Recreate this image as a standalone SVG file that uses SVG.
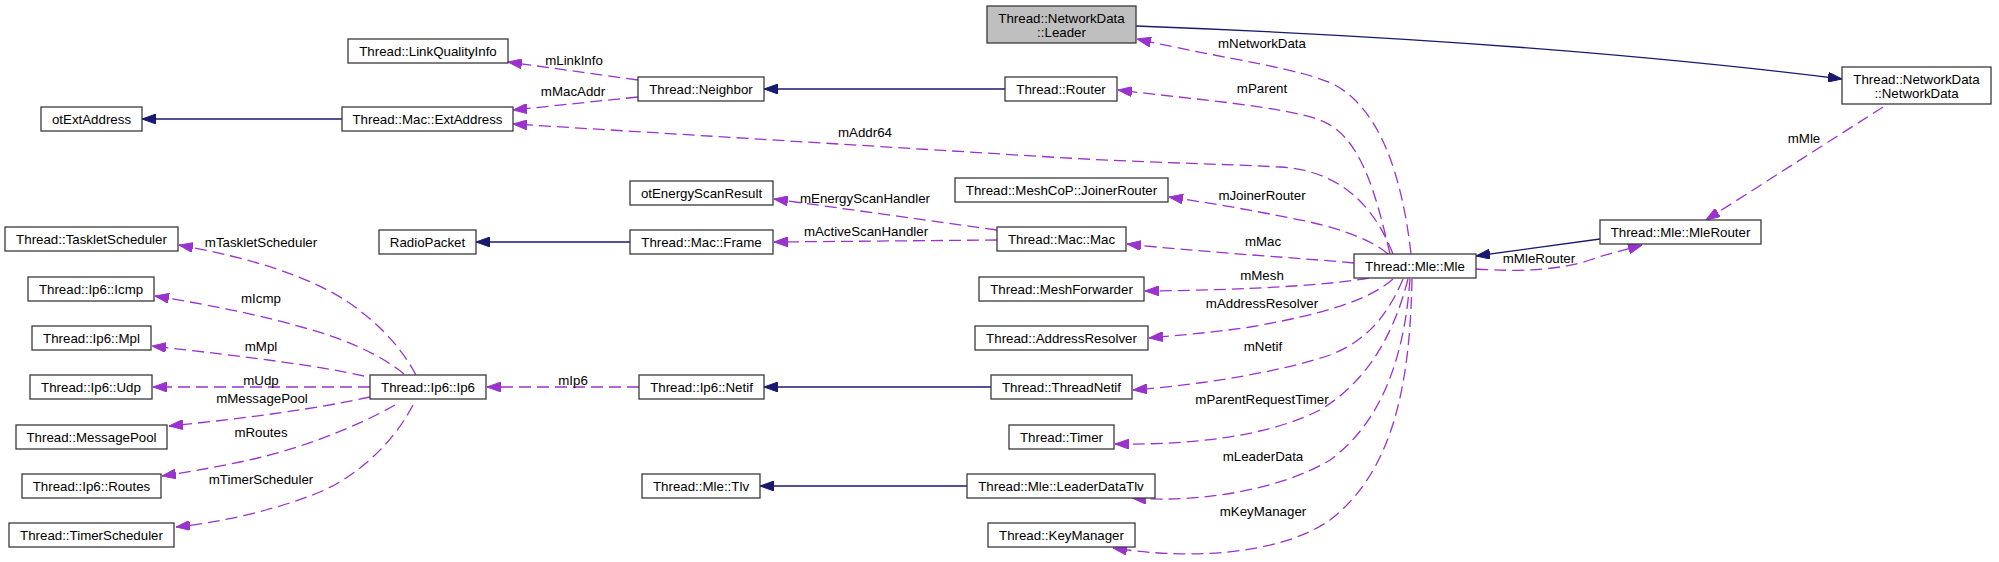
<svg xmlns="http://www.w3.org/2000/svg" width="1999" height="562" viewBox="0 0 1999 562">
<style>
.n rect{fill:#ffffff;stroke:#3a3a3a;stroke-width:1.3}
.n rect.g{fill:#bfbfbf}
text{font-family:"Liberation Sans",Arial,sans-serif;font-size:13.3px;fill:#000;text-anchor:middle}
.inh{fill:none;stroke:#191970;stroke-width:1.3;marker-end:url(#an)}
.use{fill:none;stroke:#9a32cd;stroke-width:1.3;stroke-dasharray:12,6;marker-end:url(#ap)}
</style>
<defs>
<marker id="an" viewBox="0 0 14 10" refX="14" refY="5" markerWidth="14" markerHeight="10" markerUnits="userSpaceOnUse" orient="auto"><path d="M0,0L14,5L0,10z" fill="#191970" stroke="#191970"/></marker>
<marker id="ap" viewBox="0 0 14 10" refX="14" refY="5" markerWidth="14" markerHeight="10" markerUnits="userSpaceOnUse" orient="auto"><path d="M0,0L14,5L0,10z" fill="#9a32cd" stroke="#9a32cd"/></marker>
</defs>
<rect width="1999" height="562" fill="#fff"/>
<g id="connectors">
<path class="inh" d="M342,119L142,119"/>
<path class="inh" d="M1005,89L764,89"/>
<path class="inh" d="M630,242L476,242"/>
<path class="inh" d="M991,387L764,387"/>
<path class="inh" d="M967,486L760,486"/>
<path class="inh" d="M1136,26C1400,36 1650,55 1842,79"/>
<path class="inh" d="M1600,239L1476,256"/>
<path class="use" d="M638,80L508,62"/>
<path class="use" d="M638,97L513,110"/>
<path class="use" d="M1393,254C1370,195 1330,170 1280,167C1200,163 1150,163 1050,157L513,124"/>
<path class="use" d="M1411,254C1402,175 1380,110 1335,85C1300,68 1230,60 1137,39"/>
<path class="use" d="M1390,254C1375,190 1360,135 1320,120C1280,106 1200,100 1118,90"/>
<path class="use" d="M1388,254C1370,238 1330,225 1290,218C1240,208 1210,203 1169,197"/>
<path class="use" d="M1354,263C1300,258 1200,252 1127,244"/>
<path class="use" d="M1369,278C1330,285 1250,290 1145,291"/>
<path class="use" d="M1393,279C1370,300 1320,315 1250,327C1210,333 1180,335 1149,338"/>
<path class="use" d="M1403,279C1390,310 1370,340 1330,355C1280,372 1200,385 1133,390"/>
<path class="use" d="M1408,279C1395,330 1370,380 1320,410C1270,435 1200,445 1115,444"/>
<path class="use" d="M1410,279C1405,350 1385,420 1330,460C1280,490 1200,503 1132,498"/>
<path class="use" d="M1412,279C1410,380 1395,470 1330,520C1280,555 1190,560 1113,548"/>
<path class="use" d="M1476,269C1520,272 1560,270 1590,260C1610,253 1625,250 1642,245"/>
<path class="use" d="M1883,107L1706,220"/>
<path class="use" d="M416,375C400,345 375,320 345,300C305,275 250,258 179,245"/>
<path class="use" d="M404,374C385,358 350,340 305,328C260,315 210,305 155,296"/>
<path class="use" d="M364,376C320,366 250,357 152,346"/>
<path class="use" d="M370,387L153,387"/>
<path class="use" d="M370,397C320,408 250,418 169,426"/>
<path class="use" d="M395,405C360,425 300,450 240,462C210,468 190,472 162,476"/>
<path class="use" d="M413,405C395,440 360,475 320,492C270,512 220,522 176,527"/>
<path class="use" d="M639,387L487,387"/>
<path class="use" d="M997,230L774,199"/>
<path class="use" d="M997,240L774,242"/>
<text x="574" y="65">mLinkInfo</text>
<text x="573" y="96">mMacAddr</text>
<text x="865" y="137">mAddr64</text>
<text x="1262" y="48">mNetworkData</text>
<text x="1262" y="93">mParent</text>
<text x="1262" y="200">mJoinerRouter</text>
<text x="1263" y="246">mMac</text>
<text x="1262" y="280">mMesh</text>
<text x="1262" y="308">mAddressResolver</text>
<text x="1263" y="351">mNetif</text>
<text x="1262" y="404">mParentRequestTimer</text>
<text x="1263" y="461">mLeaderData</text>
<text x="1263" y="516">mKeyManager</text>
<text x="1539" y="263">mMleRouter</text>
<text x="1804" y="143">mMle</text>
<text x="261" y="247">mTaskletScheduler</text>
<text x="261" y="303">mIcmp</text>
<text x="261" y="351">mMpl</text>
<text x="261" y="385">mUdp</text>
<text x="262" y="403">mMessagePool</text>
<text x="261" y="437">mRoutes</text>
<text x="261" y="484">mTimerScheduler</text>
<text x="573" y="385">mIp6</text>
<text x="865" y="203">mEnergyScanHandler</text>
<text x="866" y="236">mActiveScanHandler</text>
</g>
<g id="leader" class="n"><rect class="g" x="987" y="6" width="149" height="37"/><text x="1061.5" y="22.5">Thread::NetworkData</text><text x="1061.5" y="36.5">::Leader</text></g>
<g id="linkquality" class="n"><rect x="348" y="39" width="160" height="24"/><text x="428" y="55.5">Thread::LinkQualityInfo</text></g>
<g id="neighbor" class="n"><rect x="638" y="77" width="126" height="24"/><text x="701" y="93.5">Thread::Neighbor</text></g>
<g id="router" class="n"><rect x="1005" y="77" width="112" height="24"/><text x="1061" y="93.5">Thread::Router</text></g>
<g id="otextaddress" class="n"><rect x="41" y="107" width="101" height="24"/><text x="91.5" y="123.5">otExtAddress</text></g>
<g id="extaddress" class="n"><rect x="342" y="107" width="171" height="24"/><text x="427.5" y="123.5">Thread::Mac::ExtAddress</text></g>
<g id="networkdata" class="n"><rect x="1842" y="67" width="149" height="37"/><text x="1916.5" y="83.5">Thread::NetworkData</text><text x="1916.5" y="97.5">::NetworkData</text></g>
<g id="joinerrouter" class="n"><rect x="955" y="178" width="213" height="24"/><text x="1061.5" y="194.5">Thread::MeshCoP::JoinerRouter</text></g>
<g id="energyscan" class="n"><rect x="630" y="181" width="143" height="24"/><text x="701.5" y="197.5">otEnergyScanResult</text></g>
<g id="radiopacket" class="n"><rect x="379" y="230" width="97" height="24"/><text x="427.5" y="246.5">RadioPacket</text></g>
<g id="frame" class="n"><rect x="630" y="230" width="143" height="24"/><text x="701.5" y="246.5">Thread::Mac::Frame</text></g>
<g id="mac" class="n"><rect x="997" y="227" width="129" height="24"/><text x="1061.5" y="243.5">Thread::Mac::Mac</text></g>
<g id="tasklet" class="n"><rect x="5" y="227" width="173" height="24"/><text x="91.5" y="243.5">Thread::TaskletScheduler</text></g>
<g id="mle" class="n"><rect x="1354" y="254" width="122" height="24"/><text x="1415" y="270.5">Thread::Mle::Mle</text></g>
<g id="mlerouter" class="n"><rect x="1600" y="220" width="161" height="24"/><text x="1680.5" y="236.5">Thread::Mle::MleRouter</text></g>
<g id="meshforwarder" class="n"><rect x="979" y="277" width="165" height="24"/><text x="1061.5" y="293.5">Thread::MeshForwarder</text></g>
<g id="icmp" class="n"><rect x="28" y="277" width="126" height="24"/><text x="91" y="293.5">Thread::Ip6::Icmp</text></g>
<g id="addressresolver" class="n"><rect x="975" y="326" width="173" height="24"/><text x="1061.5" y="342.5">Thread::AddressResolver</text></g>
<g id="mpl" class="n"><rect x="32" y="326" width="119" height="24"/><text x="91.5" y="342.5">Thread::Ip6::Mpl</text></g>
<g id="udp" class="n"><rect x="30" y="375" width="122" height="24"/><text x="91" y="391.5">Thread::Ip6::Udp</text></g>
<g id="ip6" class="n"><rect x="370" y="375" width="116" height="24"/><text x="428" y="391.5">Thread::Ip6::Ip6</text></g>
<g id="netif" class="n"><rect x="639" y="375" width="125" height="24"/><text x="701.5" y="391.5">Thread::Ip6::Netif</text></g>
<g id="threadnetif" class="n"><rect x="991" y="375" width="141" height="24"/><text x="1061.5" y="391.5">Thread::ThreadNetif</text></g>
<g id="messagepool" class="n"><rect x="16" y="425" width="151" height="24"/><text x="91.5" y="441.5">Thread::MessagePool</text></g>
<g id="timer" class="n"><rect x="1009" y="425" width="105" height="24"/><text x="1061.5" y="441.5">Thread::Timer</text></g>
<g id="routes" class="n"><rect x="22" y="474" width="139" height="24"/><text x="91.5" y="490.5">Thread::Ip6::Routes</text></g>
<g id="tlv" class="n"><rect x="642" y="474" width="118" height="24"/><text x="701" y="490.5">Thread::Mle::Tlv</text></g>
<g id="leaderdatatlv" class="n"><rect x="967" y="474" width="188" height="24"/><text x="1061" y="490.5">Thread::Mle::LeaderDataTlv</text></g>
<g id="timerscheduler" class="n"><rect x="9" y="523" width="165" height="24"/><text x="91.5" y="539.5">Thread::TimerScheduler</text></g>
<g id="keymanager" class="n"><rect x="988" y="523" width="147" height="24"/><text x="1061.5" y="539.5">Thread::KeyManager</text></g>
</svg>
